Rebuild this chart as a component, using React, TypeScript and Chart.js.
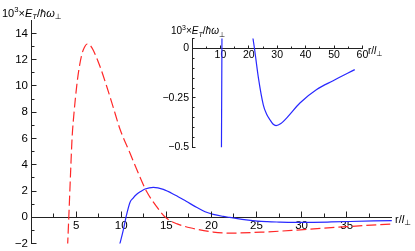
import React, { useEffect, useRef } from "react";
import { Chart, registerables } from "chart.js";

Chart.register(...registerables);

const FONT = "'Liberation Sans', 'DejaVu Sans', Arial, sans-serif";
const AXIS = "#222";
const RED = "rgb(255,40,40)";
const BLUE = "rgb(40,40,255)";

// red dashed curve (main panel)
const redR = [4.05, 4.19, 4.4, 4.55, 4.77, 5.07, 5.3, 5.62, 5.9, 6.24, 6.6, 6.89, 7.63, 8.38, 9.11, 9.86, 10.97, 11.89, 12.82, 13.93, 14.9, 16.2, 18.0, 20.2, 22.1, 25.8, 29.5, 35.0, 40.0];
const redE = [-2.3, 0, 3.6, 5.98, 7.96, 10.0, 11.2, 12.35, 12.9, 13.19, 13.05, 12.73, 11.51, 9.99, 8.39, 6.72, 4.89, 3.37, 1.96, 0.81, 0, -0.5, -0.85, -1.12, -1.2, -1.12, -0.97, -0.71, -0.51];

// blue solid curve (main panel and inset)
const blueR = [9.82, 10.23, 10.53, 10.98, 11.3, 11.72, 12.2, 12.64, 13.56, 14.67, 15.96, 17.2, 18.4, 19.3, 20.2, 21.3, 22.0, 23.4, 25.1, 26.2, 27.5, 28.5, 29.6, 31.3, 33.3, 38.0, 43.9, 49.7, 57.3];
const blueE = [-2.1, -0.97, 0, 1.15, 1.45, 1.75, 1.98, 2.15, 2.28, 2.13, 1.7, 1.22, 0.74, 0.42, 0.22, 0.07, 0, -0.15, -0.285, -0.33, -0.362, -0.382, -0.39, -0.38, -0.352, -0.276, -0.208, -0.163, -0.107];

// ticks
const mainXLabels = [5, 10, 15, 20, 25, 30, 35];
const mainXMinor = [2.5, 7.5, 12.5, 17.5, 22.5, 27.5, 32.5, 37.5];
const mainYLabels = [-2, 0, 2, 4, 6, 8, 10, 12, 14];
const mainYMinor = [-1, 1, 3, 5, 7, 9, 11, 13];
const insetXLabels = [10, 20, 30, 40, 50, 60];
const insetXMinor = [5, 15, 25, 35, 45, 55];
const insetYLabels = [0, -0.25, -0.5];
const insetYMinor = [0.05, -0.05, -0.1, -0.15, -0.2, -0.3, -0.35, -0.4, -0.45];

function fmt(v: number): string {
  return v < 0 ? "\u2212" + String(Math.abs(v)) : String(v);
}

type Piece = { t: string; size: number; italic?: boolean; dy?: number };

function drawRich(ctx: CanvasRenderingContext2D, x: number, y: number, pieces: Piece[]) {
  ctx.save();
  ctx.fillStyle = "#000";
  ctx.textAlign = "left";
  ctx.textBaseline = "alphabetic";
  let cx = x;
  for (const p of pieces) {
    ctx.font = `${p.italic ? "italic " : ""}${p.size}px ${FONT}`;
    ctx.fillText(p.t, cx, y + (p.dy || 0));
    cx += ctx.measureText(p.t).width;
  }
  ctx.restore();
}

const titlePieces = (s: number): Piece[] => [
  { t: "10", size: s },
  { t: "3", size: s * 0.7, dy: -s * 0.42 },
  { t: "\u00d7", size: s },
  { t: "E", size: s, italic: true },
  { t: "T", size: s * 0.7, italic: true, dy: s * 0.25 },
  { t: "/", size: s },
  { t: "\u0127\u03c9", size: s, italic: true },
  { t: "\u22a5", size: s * 0.7, dy: s * 0.25 },
];

const axisPieces = (s: number): Piece[] => [
  { t: "r/", size: s },
  { t: "l", size: s, italic: true },
  { t: "\u22a5", size: s * 0.7, dy: s * 0.25 },
];

function zeroPad(s: any) {
  s.paddingTop = 0;
  s.paddingBottom = 0;
  s.paddingLeft = 0;
  s.paddingRight = 0;
}

function align(p: number) {
  return Math.round(p - 0.5) + 0.5;
}

type TickCfg = {
  xMajor: number[];
  xMinor: number[];
  yMajor: number[];
  yMinor: number[];
  xLen: [number, number];
  yLen: [number, number];
  texts: (ctx: CanvasRenderingContext2D) => void;
};

function tickPlugin(id: string, cfg: TickCfg) {
  return {
    id,
    afterDraw(chart: any) {
      const ctx: CanvasRenderingContext2D = chart.ctx;
      const xs = chart.scales.x;
      const ys = chart.scales.y;
      const y0 = align(ys.getPixelForValue(0));
      const x0 = align(chart.chartArea.left);
      ctx.save();
      ctx.strokeStyle = AXIS;
      ctx.lineWidth = 1;
      ctx.beginPath();
      const xt = (vals: number[], len: number) => {
        for (const v of vals) {
          const px = align(xs.getPixelForValue(v));
          ctx.moveTo(px, y0);
          ctx.lineTo(px, y0 - len);
        }
      };
      const yt = (vals: number[], len: number) => {
        for (const v of vals) {
          const py = align(ys.getPixelForValue(v));
          ctx.moveTo(x0, py);
          ctx.lineTo(x0 + len, py);
        }
      };
      xt(cfg.xMajor, cfg.xLen[0]);
      xt(cfg.xMinor, cfg.xLen[1]);
      yt(cfg.yMajor.filter((v) => v !== 0), cfg.yLen[0]);
      yt(cfg.yMinor, cfg.yLen[1]);
      ctx.stroke();
      ctx.restore();
      cfg.texts(ctx);
    },
  };
}

function pts(xs: number[], ys: number[]) {
  return xs.map((x, i) => ({ x, y: ys[i] }));
}

export default function App() {
  const mainRef = useRef<HTMLCanvasElement>(null);
  const insetRef = useRef<HTMLCanvasElement>(null);

  useEffect(() => {
    const mainFont = { size: 11.5, family: FONT };
    const insetFont = { size: 10.5, family: FONT };

    const main = new Chart(mainRef.current as HTMLCanvasElement, {
      type: "line",
      data: {
        datasets: [
          {
            data: pts(redR, redE),
            borderColor: RED,
            borderWidth: 1.2,
            borderDash: [10, 4],
            pointRadius: 0,
            fill: false,
            cubicInterpolationMode: "monotone",
          },
          {
            data: pts(blueR, blueE),
            borderColor: BLUE,
            borderWidth: 1.2,
            pointRadius: 0,
            fill: false,
            cubicInterpolationMode: "monotone",
          },
        ],
      },
      options: {
        responsive: false,
        animation: false,
        events: [],
        layout: { padding: { left: 0, right: 23.2, top: 20.2, bottom: 7.4 } },
        plugins: { legend: { display: false }, tooltip: { enabled: false }, title: { display: false } },
        scales: {
          x: {
            type: "linear",
            min: 0,
            max: 40,
            position: { y: 0 } as any,
            grid: { display: false, drawTicks: false },
            border: { display: true, color: AXIS, width: 1 },
            ticks: {
              autoSkip: false,
              maxRotation: 0,
              padding: 2,
              color: "#000",
              font: mainFont,
              callback: (v: any) => fmt(Number(v)),
            },
            afterBuildTicks: (s: any) => {
              s.ticks = mainXLabels.map((v) => ({ value: v }));
            },
            afterFit: zeroPad,
          },
          y: {
            type: "linear",
            min: -2,
            max: 15,
            position: "left",
            grid: { display: false, drawTicks: false },
            border: { display: true, color: AXIS, width: 1 },
            ticks: {
              autoSkip: false,
              padding: 3,
              color: "#000",
              font: mainFont,
              callback: (v: any) => fmt(Number(v)),
            },
            afterBuildTicks: (s: any) => {
              s.ticks = mainYLabels.map((v) => ({ value: v }));
            },
            afterFit: (s: any) => {
              zeroPad(s);
              s.width = 31;
            },
          },
        },
      },
      plugins: [
        tickPlugin("mainTicks", {
          xMajor: mainXLabels,
          xMinor: mainXMinor,
          yMajor: mainYLabels,
          yMinor: mainYMinor,
          xLen: [6, 4],
          yLen: [5, 3],
          texts: (ctx) => {
            drawRich(ctx, 2, 16.5, titlePieces(11));
            drawRich(ctx, 395, 222.5, axisPieces(11));
          },
        }),
      ],
    } as any);

    const inset = new Chart(insetRef.current as HTMLCanvasElement, {
      type: "line",
      data: {
        datasets: [
          {
            data: pts(blueR, blueE),
            borderColor: BLUE,
            borderWidth: 1.2,
            pointRadius: 0,
            fill: false,
            cubicInterpolationMode: "monotone",
          },
        ],
      },
      options: {
        responsive: false,
        animation: false,
        events: [],
        layout: { padding: { left: 0, right: 52.6, top: 38.6, bottom: 103.7 } },
        plugins: { legend: { display: false }, tooltip: { enabled: false }, title: { display: false } },
        scales: {
          x: {
            type: "linear",
            min: 0,
            max: 60,
            position: { y: 0 } as any,
            grid: { display: false, drawTicks: false },
            border: { display: true, color: AXIS, width: 1 },
            ticks: {
              autoSkip: false,
              maxRotation: 0,
              padding: 0,
              color: "#000",
              font: insetFont,
              callback: (v: any) => fmt(Number(v)),
            },
            afterBuildTicks: (s: any) => {
              s.ticks = insetXLabels.map((v) => ({ value: v }));
            },
            afterFit: zeroPad,
          },
          y: {
            type: "linear",
            min: -0.5,
            max: 0.05,
            position: "left",
            grid: { display: false, drawTicks: false },
            border: { display: true, color: AXIS, width: 1 },
            ticks: {
              autoSkip: false,
              padding: 3,
              color: "#000",
              font: insetFont,
              callback: (v: any) => fmt(Number(v)),
            },
            afterBuildTicks: (s: any) => {
              s.ticks = insetYLabels.map((v) => ({ value: v }));
            },
            afterFit: (s: any) => {
              zeroPad(s);
              s.width = 192;
            },
          },
        },
      },
      plugins: [
        tickPlugin("insetTicks", {
          xMajor: insetXLabels,
          xMinor: insetXMinor,
          yMajor: insetYLabels,
          yMinor: insetYMinor,
          xLen: [3, 2],
          yLen: [3, 2],
          texts: (ctx) => {
            drawRich(ctx, 171, 34, titlePieces(10));
            drawRich(ctx, 368, 53.5, axisPieces(10));
          },
        }),
      ],
    } as any);

    return () => {
      main.destroy();
      inset.destroy();
    };
  }, []);

  return (
    <div style={{ position: "fixed", left: 0, top: 0, width: 415, height: 251, background: "#fff" }}>
      <canvas ref={mainRef} width={415} height={251} style={{ position: "absolute", left: 0, top: 0 }} />
      <canvas ref={insetRef} width={415} height={251} style={{ position: "absolute", left: 0, top: 0 }} />
    </div>
  );
}
